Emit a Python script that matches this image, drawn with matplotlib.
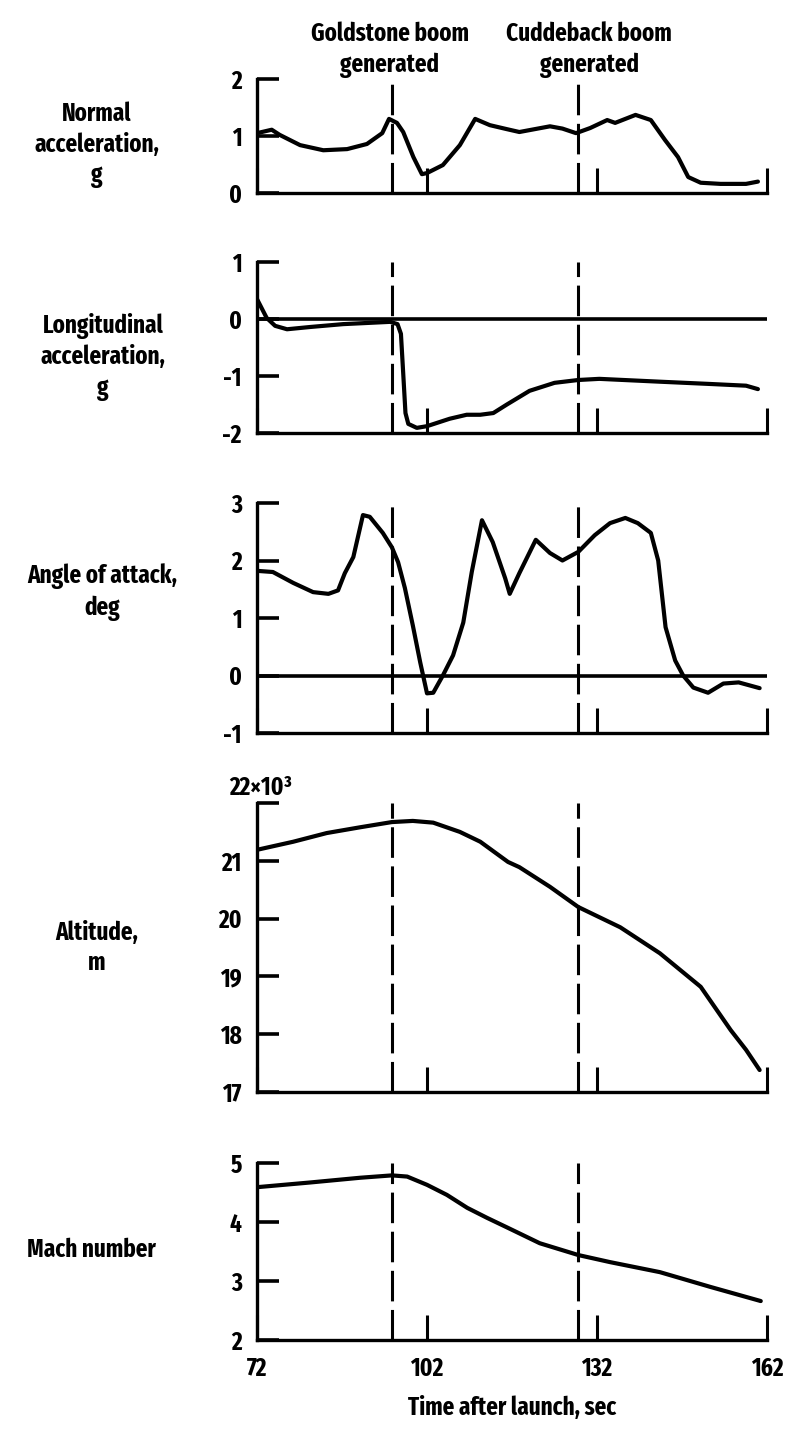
import numpy as np
import matplotlib
matplotlib.use("Agg")
import matplotlib.pyplot as plt

plt.rcParams['font.family'] = ['Fira Sans Extra Condensed', 'Roboto Condensed', 'DejaVu Sans']
plt.rcParams['font.weight'] = 'bold'
plt.rcParams['axes.labelweight'] = 'bold'
plt.rcParams['axes.unicode_minus'] = False

# time after launch, sec / values
t_normal = [72, 74.6, 76, 79.6, 83.7, 87.9, 91.4, 94.1, 95.3, 96.7, 97.8, 99.6, 101.1, 102,
            104.8, 107.8, 110.5, 113.1, 116.1, 118.3, 123.7, 125.9, 128.3, 130.8, 133.8,
            135.2, 138.8, 141.5, 144, 146.3, 148.1, 150.3, 153.8, 158.3, 160.4]
normal_acc = [1.05, 1.11, 1.02, 0.84, 0.75, 0.77, 0.86, 1.05, 1.30, 1.23, 1.07, 0.63, 0.33,
              0.35, 0.49, 0.84, 1.30, 1.19, 1.12, 1.07, 1.17, 1.13, 1.05, 1.14, 1.28,
              1.23, 1.37, 1.28, 0.93, 0.63, 0.28, 0.18, 0.16, 0.16, 0.2]

t_long = [72, 73.7, 75.2, 77.3, 81.4, 87.2, 95.5, 96.8, 97.4, 97.8, 98.2, 98.7, 100.2, 102,
          106, 109, 111.4, 113.7, 116.1, 120.1, 124.5, 128.7, 132.4, 143.1, 152, 158.3, 160.4]
long_acc = [0.35, 0.02, -0.12, -0.18, -0.14, -0.09, -0.05, -0.09, -0.26, -0.95, -1.65, -1.84,
            -1.91, -1.88, -1.75, -1.68, -1.68, -1.65, -1.50, -1.26, -1.12, -1.07, -1.05,
            -1.10, -1.14, -1.17, -1.23]

t_alpha = [72, 74.8, 78.4, 81.9, 84.6, 86.3, 87.5, 89, 90.7, 91.9, 94.2, 95.8, 96.9, 98.1,
           99.5, 100.8, 102, 103.1, 104.8, 106.6, 108.4, 109.9, 111.7, 113.6, 115.8, 116.6,
           118.3, 121.2, 123.7, 125.9, 128.7, 131.6, 134.3, 137, 139.2, 141.5, 142.8, 144.1,
           145.8, 147.2, 149, 151.6, 154.3, 157, 160.7]
alpha = [1.82, 1.80, 1.61, 1.45, 1.42, 1.48, 1.78, 2.06, 2.79, 2.76, 2.48, 2.23, 1.97, 1.52,
         0.87, 0.23, -0.31, -0.30, 0.0, 0.35, 0.92, 1.80, 2.70, 2.32, 1.69, 1.42,
         1.78, 2.36, 2.13, 2.0, 2.15, 2.44, 2.65, 2.74, 2.65, 2.48, 2.0, 0.84,
         0.26, 0.0, -0.21, -0.30, -0.14, -0.12, -0.22]

t_alt = [72, 78.4, 84.3, 90.2, 95.8, 99.5, 103.1, 107.8, 111.4, 116.3, 118.3, 123.7, 128.7,
         136.1, 143.1, 150.3, 155.6, 158.3, 160.7]
altitude = [21.19, 21.33, 21.48, 21.58, 21.67, 21.69, 21.66, 21.50, 21.33, 20.98, 20.89,
            20.55, 20.20, 19.85, 19.40, 18.82, 18.07, 17.73, 17.38]

t_mach = [72, 81.4, 90.2, 95.8, 98.5, 102, 105.5, 109.1, 112.6, 116.3, 121.9, 128.7, 134.3,
          143.1, 152, 160.9]
mach = [4.59, 4.67, 4.75, 4.79, 4.77, 4.63, 4.46, 4.24, 4.07, 3.90, 3.64, 3.44, 3.32, 3.15,
        2.90, 2.66]

boom_times = [95.8, 128.7]
boom_labels = ['Goldstone boom\ngenerated', 'Cuddeback boom\ngenerated']
x_ticks = [72, 102, 132, 162]

panels = [
    (t_normal, normal_acc, [0, 1, 2], 'Normal\nacceleration,\ng', False),
    (t_long, long_acc, [-2, -1, 0, 1], 'Longitudinal\nacceleration,\ng', True),
    (t_alpha, alpha, [-1, 0, 1, 2, 3], 'Angle of attack,\ndeg', True),
    (t_alt, altitude, [17, 18, 19, 20, 21, 22], 'Altitude,\nm', False),
    (t_mach, mach, [2, 3, 4, 5], 'Mach number', False),
]

W, H = 801, 1431
fig = plt.figure(figsize=(W / 100, H / 100), dpi=100)
# pixel boxes of each panel: (top, bottom)
boxes = [(79, 193), (262, 433), (503, 733), (803, 1092), (1163, 1340)]
label_pos = [(97, 145), (103, 357), (102, 592), (97, 948), (91, 1250)]
left, right = 257, 767
fs = 18

axes = []
for (top, bot), (lx, ly), (tx, ty, yt, lab, zero) in zip(boxes, label_pos, panels):
    ax = fig.add_axes([left / W, 1 - bot / H, (right - left) / W, (bot - top) / H])
    axes.append(ax)
    ax.plot(tx, ty, color='black', lw=3.0, solid_joinstyle='round', solid_capstyle='round')
    if zero:
        ax.axhline(0, color='black', lw=2.6)
    for bt in boom_times:
        ax.axvline(bt, color='black', lw=2.2, dashes=(10, 2.8))
    ax.set_xlim(72, 162)
    ax.set_ylim(yt[0], yt[-1])
    ax.set_yticks(yt)
    ax.set_xticks(x_ticks)
    ax.spines['top'].set_visible(False)
    ax.spines['right'].set_visible(False)
    for s in ('left', 'bottom'):
        ax.spines[s].set_linewidth(2.4)
    ax.tick_params(axis='y', direction='in', length=16, width=2.6, pad=11, labelsize=fs)
    ax.tick_params(axis='x', direction='in', length=18, width=2.2, pad=12, labelsize=fs)
    ax.set_xticklabels([])
    fig.text(lx / W, 1 - ly / H, lab, ha='center', va='center', fontsize=fs,
             linespacing=1.3)

# altitude axis: scale factor written at the top tick
alt_ax = axes[3]
alt_ax.set_yticklabels(['17', '18', '19', '20', '21', ''])
alt_ax.annotate('22\u00d710\u00b3', xy=(72, 22), xytext=(3, 2), textcoords='offset points',
                ha='center', va='bottom', fontsize=fs, annotation_clip=False)

axes[-1].set_xticklabels([str(v) for v in x_ticks])
axes[-1].set_xlabel('Time after launch, sec', fontsize=fs, labelpad=10)

for bl, cx in zip(boom_labels, [390, 589]):
    fig.text(cx / W, 1 - 50 / H, bl, ha='center', va='center', fontsize=fs, linespacing=1.3)

fig.savefig('out.png', dpi=100)
